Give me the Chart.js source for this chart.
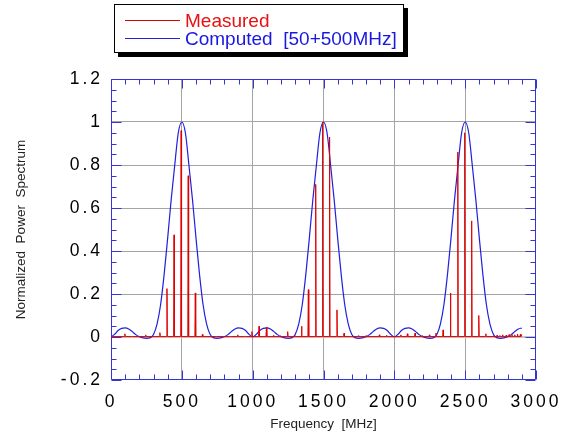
<!DOCTYPE html>
<html>
<head>
<meta charset="utf-8">
<script src="https://cdn.jsdelivr.net/npm/chart.js@4.4.1/dist/chart.umd.min.js"></script>
<style>
html,body{margin:0;padding:0;background:#fff;}
#wrap{position:relative;width:571px;height:434px;}
#legend{position:absolute;left:114px;top:4px;width:288px;height:47px;border:1px solid #000;box-shadow:4px 4px 0 #000;background:#fff;font-family:"Liberation Sans",Arial,sans-serif;font-size:19px;}
.row{position:absolute;left:10px;height:18px;display:flex;align-items:center;white-space:pre;}
.sw{width:55px;height:1px;margin-right:5px;}
</style>
</head>
<body>
<div id="wrap">
  <canvas id="c" width="571" height="434"></canvas>
  <div id="legend"></div>
</div>
<script>
// ---------- data ----------
const xTickLabels = ['0','500','1000','1500','2000','2500','3000'];
const yTickLabels = ['-0.2','0','0.2','0.4','0.6','0.8','1','1.2'];

const computedFreq = [
  0,25,50,75,100,125,150,175,200,225,250,275,300,325,350,375,400,425,450,475,
  500,525,550,575,600,625,650,675,700,725,750,775,800,825,850,875,900,925,950,975,
  1000,1025,1050,1075,1100,1125,1150,1175,1200,1225,1250,1275,1300,1325,1350,1375,1400,1425,1450,1475,
  1500,1525,1550,1575,1600,1625,1650,1675,1700,1725,1750,1775,1800,1825,1850,1875,1900,1925,1950,1975,
  2000,2025,2050,2075,2100,2125,2150,2175,2200,2225,2250,2275,2300,2325,2350,2375,2400,2425,2450,2475,
  2500,2525,2550,2575,2600,2625,2650,2675,2700,2725,2750,2775,2800,2825,2850,2875,2900
];
const computedPower = [
  0.000,0.012,0.030,0.040,0.042,0.037,0.025,0.011,0.001,-0.004,-0.006,-0.004,0.012,0.060,0.150,0.290,0.460,0.640,0.800,0.950,
  1.000,0.950,0.800,0.640,0.460,0.290,0.150,0.060,0.012,-0.004,-0.006,-0.004,0.001,0.011,0.025,0.037,0.042,0.040,0.030,0.012,
  0.000,0.012,0.030,0.040,0.042,0.037,0.025,0.011,0.001,-0.004,-0.006,-0.004,0.012,0.060,0.150,0.290,0.460,0.640,0.800,0.950,
  1.000,0.950,0.800,0.640,0.460,0.290,0.150,0.060,0.012,-0.004,-0.006,-0.004,0.001,0.011,0.025,0.037,0.042,0.040,0.030,0.012,
  0.000,0.012,0.030,0.040,0.042,0.037,0.025,0.011,0.001,-0.004,-0.006,-0.004,0.012,0.060,0.150,0.290,0.460,0.640,0.800,0.950,
  1.000,0.950,0.800,0.640,0.460,0.290,0.150,0.060,0.012,-0.004,-0.006,-0.004,0.001,0.011,0.025,0.037,0.042
];

// measured line spectrum: spike frequencies and heights
const measuredFreq = [
  98,147,245,295,345,395,445,495,545,595,645,695,745,795,845,895,945,995,
  1045,1097,1147,1197,1247,1297,1345,1393,1445,1494,1543,1595,1645,1695,1746,1800,1846,1894,1946,1996,
  2046,2092,2146,2196,2247,2294,2344,2396,2448,2497,2546,2596,2646,2700,2725,2745,2765,2790,2810,2830,2850,2870,2890
];
const measuredPower = [
  0.015,0.004,0.010,0.005,0.020,0.225,0.475,0.960,0.750,0.205,0.012,0.004,0.003,0.004,0.004,0.010,0.004,0.025,
  0.050,0.045,0.008,0.006,0.025,0.008,0.050,0.220,0.710,1.000,0.930,0.126,0.018,0.004,0.006,0.006,0.004,0.010,0.008,0.004,
  0.010,0.015,0.018,0.006,0.010,0.018,0.033,0.205,0.860,0.950,0.540,0.100,0.015,0.006,0.008,0.007,0.010,0.009,0.011,0.012,0.010,0.013,0.014
];
const measuredFloor = 0.002;
const sampleStep = 3; // MHz, resolution of the measured spectrum

const seriesLabels = ['Measured', 'Computed  [50+500MHz]'];
const RED = '#e00000', BLUE = '#2020dd', AXIS = '#3535d0';

// ---------- build datasets ----------
const measuredData = [{x:0, y:measuredFloor}];
measuredFreq.forEach((f,i)=>{
  measuredData.push({x:f-sampleStep, y:measuredFloor});
  measuredData.push({x:f, y:measuredPower[i]});
  measuredData.push({x:f+sampleStep, y:measuredFloor});
});
measuredData.push({x:2900, y:0.010});
const computedData = computedFreq.map((f,i)=>({x:f, y:computedPower[i]}));

const isMult = (v, s) => Math.abs(v/s - Math.round(v/s)) < 1e-6;

const framePlugin = {
  id: 'frame',
  beforeDraw(chart) {
    for (const id of ['x','y']) {
      const s = chart.scales[id];
      if (!s._spaced) {
        const orig = s.drawLabels;
        s.drawLabels = function(a){ const c = this.ctx; c.save(); c.letterSpacing = '3px'; orig.call(this, a); c.restore(); };
        s._spaced = true;
      }
    }
  },
  beforeDatasetsDraw(chart) {
    const {ctx, chartArea:{left,right,top,bottom}, scales:{x,y}} = chart;
    ctx.save();
    ctx.strokeStyle = AXIS; ctx.lineWidth = 1;
    ctx.beginPath();
    const L = Math.round(left)+0.5, R = Math.round(right)-0.5, T = Math.round(top)+0.5, B = Math.round(bottom)-0.5;
    ctx.rect(L, T, R-L, B-T);
    x.ticks.forEach(t=>{
      const p = Math.round(x.getPixelForValue(t.value))+0.5;
      const len = isMult(t.value,500) ? 9 : 5;
      ctx.moveTo(p,B); ctx.lineTo(p,B-len);
      ctx.moveTo(p,T); ctx.lineTo(p,T+len);
    });
    y.ticks.forEach(t=>{
      const p = Math.round(y.getPixelForValue(t.value))+0.5;
      const len = isMult(t.value,0.2) ? 10 : 5;
      ctx.moveTo(L,p); ctx.lineTo(L+len,p);
      ctx.moveTo(R,p); ctx.lineTo(R-len,p);
    });
    ctx.stroke();
    ctx.restore();
  }
};

Chart.defaults.font.family = '"Liberation Sans", Arial, sans-serif';
Chart.defaults.color = '#000';

const chart = new Chart(document.getElementById('c'), {
  type: 'line',
  data: {
    datasets: [
      {label: seriesLabels[0], data: measuredData, borderColor: RED, backgroundColor: RED, borderWidth: 1, pointRadius: 0, tension: 0},
      {label: seriesLabels[1], data: computedData, borderColor: BLUE, backgroundColor: BLUE, borderWidth: 1.2, pointRadius: 0, cubicInterpolationMode: 'monotone'}
    ]
  },
  options: {
    responsive: false,
    animation: false,
    parsing: true,
    layout: {padding: {top: 79, right: 35, bottom: 0, left: 0}},
    plugins: {legend: {display: false}, tooltip: {enabled: false}},
    scales: {
      x: {
        type: 'linear', min: 0, max: 3000,
        afterFit: s => { s.height = 54; },
        ticks: {
          stepSize: 100, autoSkip: false, maxRotation: 0, padding: 12,
          font: {size: 17.5},
          callback: v => { const i = xTickLabels.indexOf(String(v)); return i >= 0 ? xTickLabels[i] : ''; }
        },
        grid: {
          drawTicks: false,
          color: c => (c.tick && isMult(c.tick.value,500) && c.tick.value > 0 && c.tick.value < 3000) ? '#a4a4a4' : 'rgba(0,0,0,0)'
        },
        border: {display: false},
        title: {display: true, text: 'Frequency  [MHz]', font: {size: 13.5}, color: '#222', padding: {top: 0, bottom: 2}}
      },
      y: {
        type: 'linear', min: -0.2, max: 1.2,
        afterFit: s => { s.width = 111; },
        ticks: {
          stepSize: 0.05, autoSkip: false, padding: 8,
          font: {size: 17.5},
          callback: v => { const s = String(Math.round(v*10)/10); return (isMult(v,0.2) && yTickLabels.includes(s)) ? s : ''; }
        },
        grid: {
          drawTicks: false,
          color: c => (c.tick && isMult(c.tick.value,0.2) && c.tick.value > -0.15 && c.tick.value < 1.15) ? (Math.abs(c.tick.value) < 1e-6 ? '#c4c4c4' : '#a4a4a4') : 'rgba(0,0,0,0)',
          lineWidth: c => (c.tick && Math.abs(c.tick.value) < 1e-6) ? 2 : 1
        },
        border: {display: false},
        title: {display: true, text: 'Normalized  Power  Spectrum', font: {size: 13.5}, color: '#222', padding: {top: 13, bottom: 0}}
      }
    }
  },
  plugins: [framePlugin]
});

// HTML legend built from the datasets
const leg = document.getElementById('legend');
chart.data.datasets.forEach((ds, i) => {
  const row = document.createElement('div');
  row.className = 'row';
  row.style.top = (i === 0 ? 6.5 : 24.7) + 'px';
  const sw = document.createElement('span');
  sw.className = 'sw'; sw.style.background = ds.borderColor;
  const tx = document.createElement('span');
  tx.textContent = ds.label; tx.style.color = i === 0 ? '#e81010' : '#1818e0';
  row.appendChild(sw); row.appendChild(tx);
  leg.appendChild(row);
});
</script>
</body>
</html>
